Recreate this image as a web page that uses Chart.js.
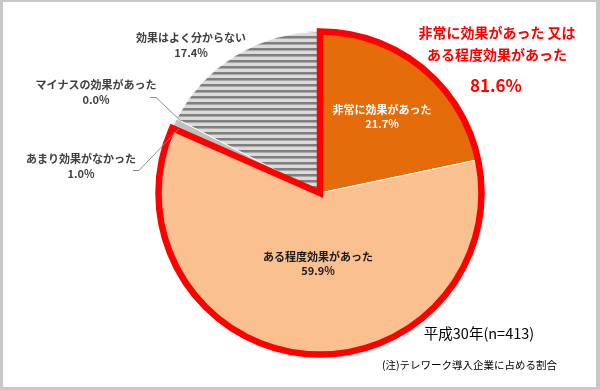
<!DOCTYPE html>
<html>
<head>
<meta charset="utf-8">
<script src="https://cdn.jsdelivr.net/npm/chart.js@4.4.0/dist/chart.umd.min.js"></script>
<style>
  html, body { margin: 0; padding: 0; background: #fff; }
  #wrap {
    position: relative; width: 600px; height: 390px; box-sizing: border-box;
    border-style: solid; border-color: #c8c8c8;
    border-width: 2px 4px 3px 3px;
  }
  canvas { position: absolute; left: -3px; top: -2px; }
</style>
</head>
<body>
<div id="wrap"><canvas id="chart" width="600" height="390"></canvas></div>
<script>
const labels = ['非常に効果があった', 'ある程度効果があった', 'あまり効果がなかった', 'マイナスの効果があった', '効果はよく分からない'];
const values = [21.7, 59.9, 1.0, 0.0, 17.4];
const valueText = ['21.7%', '59.9%', '1.0%', '0.0%', '17.4%'];
const totalText = '81.6%';
const fontFamily = '"Noto Sans CJK JP", "Noto Sans", sans-serif';

// horizontal stripes for the "unknown" slice
function stripePattern(ctx) {
  const c = document.createElement('canvas');
  c.width = 6; c.height = 6;
  const p = c.getContext('2d');
  p.fillStyle = '#dadada';
  p.fillRect(0, 0, 6, 6);
  p.fillStyle = '#7f7f7f';
  p.fillRect(0, 0, 6, 2);
  p.fillStyle = '#a8a8a8';
  p.fillRect(0, 2, 6, 1);
  return ctx.createPattern(c, 'repeat');
}

const ctx = document.getElementById('chart').getContext('2d');

const overlay = {
  id: 'overlay',
  afterDatasetsDraw(chart) {
    const c = chart.ctx;
    const arcs = chart.getDatasetMeta(0).data;
    const a0 = arcs[0], a1 = arcs[1];
    // red outline around the two "effective" slices
    c.save();
    c.beginPath();
    c.moveTo(a0.x, a0.y);
    c.arc(a0.x, a0.y, a0.outerRadius, a0.startAngle, a1.endAngle);
    c.closePath();
    c.strokeStyle = '#ff0000';
    c.lineWidth = 6.5;
    c.lineJoin = 'miter';
    c.stroke();
    c.restore();
  },
  afterDraw(chart) {
    const c = chart.ctx;
    const arcs = chart.getDatasetMeta(0).data;
    const cx = arcs[0].x, cy = arcs[0].y, r = arcs[0].outerRadius;

    // leader lines for the small slices
    c.save();
    c.strokeStyle = '#8c8c8c';
    c.lineWidth = 1;
    const a3 = arcs[3].startAngle;
    c.beginPath();
    c.moveTo(150, 97.5); c.lineTo(156, 97.5);
    c.lineTo(cx + r * 0.97 * Math.cos(a3), cy + r * 0.97 * Math.sin(a3));
    c.stroke();
    const a2 = arcs[2].startAngle + (arcs[2].endAngle - arcs[2].startAngle) * 0.2;
    c.beginPath();
    c.moveTo(133, 170.5); c.lineTo(139, 170.5);
    c.lineTo(cx + r * 0.96 * Math.cos(a2), cy + r * 0.96 * Math.sin(a2));
    c.stroke();
    c.restore();

    function text(str, x, y, font, color, align) {
      c.save();
      c.font = font;
      c.fillStyle = color;
      c.textAlign = align || 'center';
      c.textBaseline = 'middle';
      c.fillText(str, x, y);
      c.restore();
    }
    const bold = 'bold 11px ' + fontFamily;
    text(labels[0], 382, 110, bold, '#ffffff');
    text(valueText[0], 382, 124, bold, '#ffffff');
    text(labels[1], 318, 257, bold, '#1a1a1a');
    text(valueText[1], 318, 271, bold, '#1a1a1a');
    text(labels[4], 191, 38, bold, '#404040');
    text(valueText[4], 191, 53, bold, '#404040');
    text(labels[3], 96, 85, bold, '#404040');
    text(valueText[3], 96, 100, bold, '#404040');
    text(labels[2], 81, 159, bold, '#404040');
    text(valueText[2], 81, 174, bold, '#404040');

    text('非常に効果があった 又は', 497, 33, 'bold 14px ' + fontFamily, '#ff0000');
    text('ある程度効果があった', 497, 55, 'bold 14px ' + fontFamily, '#ff0000');
    text(totalText, 496, 86, 'bold 17px ' + fontFamily, '#ff0000');

    text('平成30年(n=413)', 479, 333, '14.5px ' + fontFamily, '#000000');
    text('(注)テレワーク導入企業に占める割合', 382, 365, '10.5px ' + fontFamily, '#000000', 'left');
  }
};

new Chart(ctx, {
  type: 'pie',
  data: {
    labels: labels,
    datasets: [{
      data: values,
      backgroundColor: ['#e46c0a', '#fac090', '#c0c0c0', '#a6a6a6', stripePattern(ctx)],
      borderColor: '#ffffff',
      borderWidth: 1
    }]
  },
  options: {
    responsive: false,
    animation: false,
    layout: { padding: { top: 31, bottom: 35, left: 158, right: 118 } },
    plugins: {
      legend: { display: false },
      tooltip: { enabled: false }
    }
  },
  plugins: [overlay]
});
</script>
</body>
</html>
